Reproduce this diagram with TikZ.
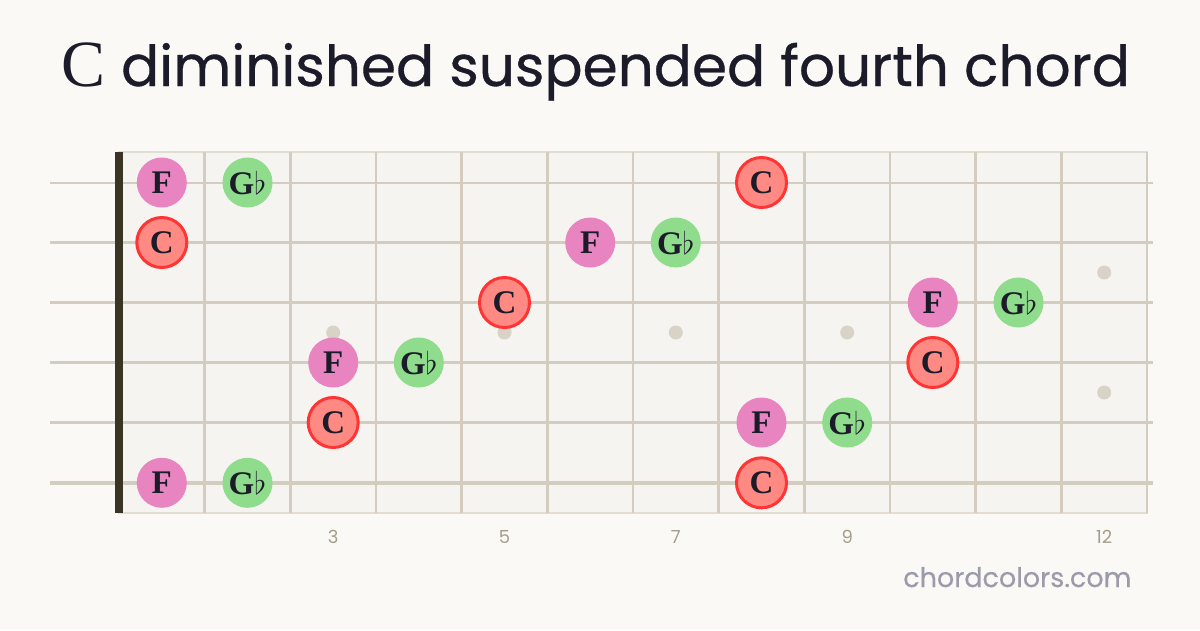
\documentclass[tikz,border=0pt]{standalone}
\usepackage{fontspec}
\setmainfont{Liberation Serif}
\newfontfamily\titlefont[FakeBold=0.6]{Poppins}
\newfontfamily\labelfont{Poppins}
\usetikzlibrary{positioning}

\definecolor{pageBg}{HTML}{FAF9F6}
\definecolor{boardBg}{HTML}{F6F4F0}
\definecolor{boardEdge}{HTML}{E2DCD2}
\definecolor{fretLine}{HTML}{D3CCBF}
\definecolor{nutDark}{HTML}{3A3424}
\definecolor{inlayGray}{HTML}{D8D3C6}
\definecolor{fPink}{HTML}{E884C0}
\definecolor{gbGreen}{HTML}{8EDC8C}
\definecolor{cRed}{HTML}{FF8A84}
\definecolor{cRing}{HTML}{FF3535}
\definecolor{inkDark}{HTML}{1C1B29}
\definecolor{numGray}{HTML}{A39D8A}
\definecolor{siteGray}{HTML}{9B9BA9}

\newcommand{\flatSign}{\scalebox{1.25}{$\flat$}}

\begin{document}
\begin{tikzpicture}[x=1pt, y=-1pt,
	noteDot/.style={circle, minimum size=50pt, inner sep=0pt, text=inkDark, font=\fontsize{33}{33}\selectfont\bfseries},
	fNote/.style={noteDot, fill=fPink},
	gbNote/.style={noteDot, fill=gbGreen},
	cNote/.style={noteDot, fill=cRed, draw=cRing, line width=3pt},
	fretWire/.style={draw=fretLine, line width=2.7pt},
	inlay/.style={circle, fill=inlayGray, minimum size=14pt, inner sep=0pt},
	fretNum/.style={text=numGray, font=\labelfont\fontsize{18}{18}\selectfont}]

	\fill[pageBg] (0,0) rectangle (1200,630);
	\useasboundingbox (0,0) rectangle (1200,630);

	\node[anchor=base, text=inkDark](title) at (596,86){\fontsize{66}{66}\selectfont C\titlefont\fontsize{56.5}{56.5}\selectfont{} diminished suspended fourth chord};

	\node[rectangle, fill=boardBg, draw=boardEdge, line width=1.5pt, minimum width=1028pt, minimum height=361pt, inner sep=0pt](board) at (633,332.5){};

	\draw[fretWire] (204.8,152) -- (204.8,513);
	\draw[fretWire] (290.5,152) -- (290.5,513);
	\draw[fretWire] (376.1,152) -- (376.1,513);
	\draw[fretWire] (461.8,152) -- (461.8,513);
	\draw[fretWire] (547.5,152) -- (547.5,513);
	\draw[fretWire] (633.1,152) -- (633.1,513);
	\draw[fretWire] (718.8,152) -- (718.8,513);
	\draw[fretWire] (804.5,152) -- (804.5,513);
	\draw[fretWire] (890.1,152) -- (890.1,513);
	\draw[fretWire] (975.8,152) -- (975.8,513);
	\draw[fretWire] (1061.5,152) -- (1061.5,513);
	\draw[fretWire] (1147,152) -- (1147,513);

	\draw[fretLine, line width=2pt] (50,182.5) -- (1153,182.5);
	\draw[fretLine, line width=2.4pt] (50,242.5) -- (1153,242.5);
	\draw[fretLine, line width=2.8pt] (50,302.5) -- (1153,302.5);
	\draw[fretLine, line width=3.2pt] (50,362.5) -- (1153,362.5);
	\draw[fretLine, line width=3.6pt] (50,422.5) -- (1153,422.5);
	\draw[fretLine, line width=4pt] (50,482.8) -- (1153,482.8);

	\node[rectangle, fill=nutDark, minimum width=8pt, minimum height=361pt, inner sep=0pt](nut) at (119,332.5){};

	\node[inlay](inlayThree) at (333.2,332.5){};
	\node[inlay](inlayFive) at (504.5,332.5){};
	\node[inlay](inlaySeven) at (675.8,332.5){};
	\node[inlay](inlayNine) at (847.2,332.5){};
	\node[inlay](inlayTwelveA) at (1104.2,272.5){};
	\node[inlay](inlayTwelveB) at (1104.2,392.5){};

	\node[fretNum](numThree) at (333.2,537){3};
	\node[fretNum](numFive) at (504.5,537){5};
	\node[fretNum](numSeven) at (675.8,537){7};
	\node[fretNum](numNine) at (847.2,537){9};
	\node[fretNum](numTwelve) at (1104.2,537){12};

	% string 1
	\node[fNote](firstF) at (161.8,182.5){F};
	\node[gbNote](firstGb) at (247.5,182.5){G\flatSign};
	\node[cNote](firstC) at (761.5,182.5){C};
	% string 2
	\node[cNote](secondC) at (161.8,242.5){C};
	\node[fNote](secondF) at (590.2,242.5){F};
	\node[gbNote](secondGb) at (675.8,242.5){G\flatSign};
	% string 3
	\node[cNote](thirdC) at (504.5,302.5){C};
	\node[fNote](thirdF) at (932.8,302.5){F};
	\node[gbNote](thirdGb) at (1018.5,302.5){G\flatSign};
	% string 4
	\node[fNote](fourthF) at (333.2,362.5){F};
	\node[gbNote](fourthGb) at (418.8,362.5){G\flatSign};
	\node[cNote](fourthC) at (932.8,362.5){C};
	% string 5
	\node[cNote](fifthC) at (333.2,422.5){C};
	\node[fNote](fifthF) at (761.5,422.5){F};
	\node[gbNote](fifthGb) at (847.2,422.5){G\flatSign};
	% string 6
	\node[fNote](sixthF) at (161.8,482.8){F};
	\node[gbNote](sixthGb) at (247.5,482.8){G\flatSign};
	\node[cNote](sixthC) at (761.5,482.8){C};

	\node[anchor=base east, text=siteGray, font=\labelfont\addfontfeature{FakeBold=0.3}\fontsize{27}{27}\selectfont](site) at (1135,587){chordcolors.com};

\end{tikzpicture}
\end{document}
